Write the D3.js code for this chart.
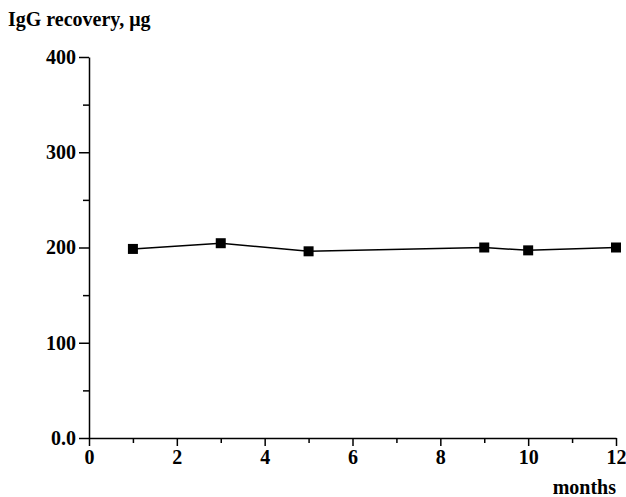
<!DOCTYPE html>
<html>
<head>
<meta charset="utf-8">
<script src="https://cdn.jsdelivr.net/npm/d3@7"></script>
<style>
  body { margin: 0; background: #fff; }
  svg text { font-family: "Liberation Serif", "Times New Roman", serif; font-weight: bold; fill: #000; }
</style>
</head>
<body>
<svg width="626" height="497"></svg>
<script>
const months = [1, 3, 5, 9, 10, 12];
const recovery = [198.5, 204.5, 196, 200, 197, 200];
const xTicks = [0, 2, 4, 6, 8, 10, 12];
const yTicks = [0, 100, 200, 300, 400];

const svg = d3.select("svg");

const x = d3.scaleLinear().domain([0, 12]).range([89, 616]);
const y = d3.scaleLinear().domain([0, 400]).range([438, 57]);

// minor ticks first, then the main axes on top
svg.append("g")
  .attr("transform", "translate(0,438)")
  .call(d3.axisBottom(x).tickValues(d3.range(1, 12, 2)).tickSize(5).tickFormat(""))
  .call(g => g.select(".domain").remove());

svg.append("g")
  .attr("transform", "translate(89,0)")
  .call(d3.axisLeft(y).tickValues(d3.range(50, 400, 100)).tickSize(6).tickFormat(""))
  .call(g => g.select(".domain").remove());

const xAxis = svg.append("g")
  .attr("transform", "translate(0,438)")
  .call(d3.axisBottom(x).tickValues(xTicks).tickSize(8).tickSizeOuter(0).tickPadding(4));

const yAxis = svg.append("g")
  .attr("transform", "translate(89,0)")
  .call(d3.axisLeft(y).tickValues(yTicks).tickSize(10).tickSizeOuter(0).tickPadding(3)
    .tickFormat(d => d === 0 ? "0.0" : d));

[xAxis, yAxis].forEach(g => {
  g.selectAll("path, line").attr("stroke", "#000").attr("stroke-width", 1.5);
  g.selectAll("text").style("font-size", "20px").style("font-family", "Liberation Serif").style("font-weight", "bold");
});
svg.selectAll("g line").attr("stroke", "#000").attr("stroke-width", 1.5);

const line = d3.line()
  .x((d, i) => x(months[i]))
  .y(d => y(d));

svg.append("path")
  .datum(recovery)
  .attr("fill", "none")
  .attr("stroke", "#000")
  .attr("stroke-width", 1.5)
  .attr("d", line);

svg.selectAll("rect.pt")
  .data(recovery)
  .enter().append("rect")
  .attr("class", "pt")
  .attr("x", (d, i) => x(months[i]) - 5)
  .attr("y", d => y(d) - 5)
  .attr("width", 10)
  .attr("height", 10)
  .attr("fill", "#000");

svg.append("text")
  .attr("x", 8)
  .attr("y", 26)
  .style("font-size", "20px")
  .text("IgG recovery, μg");

svg.append("text")
  .attr("x", 616)
  .attr("y", 494)
  .attr("text-anchor", "end")
  .style("font-size", "20px")
  .text("months");
</script>
</body>
</html>
